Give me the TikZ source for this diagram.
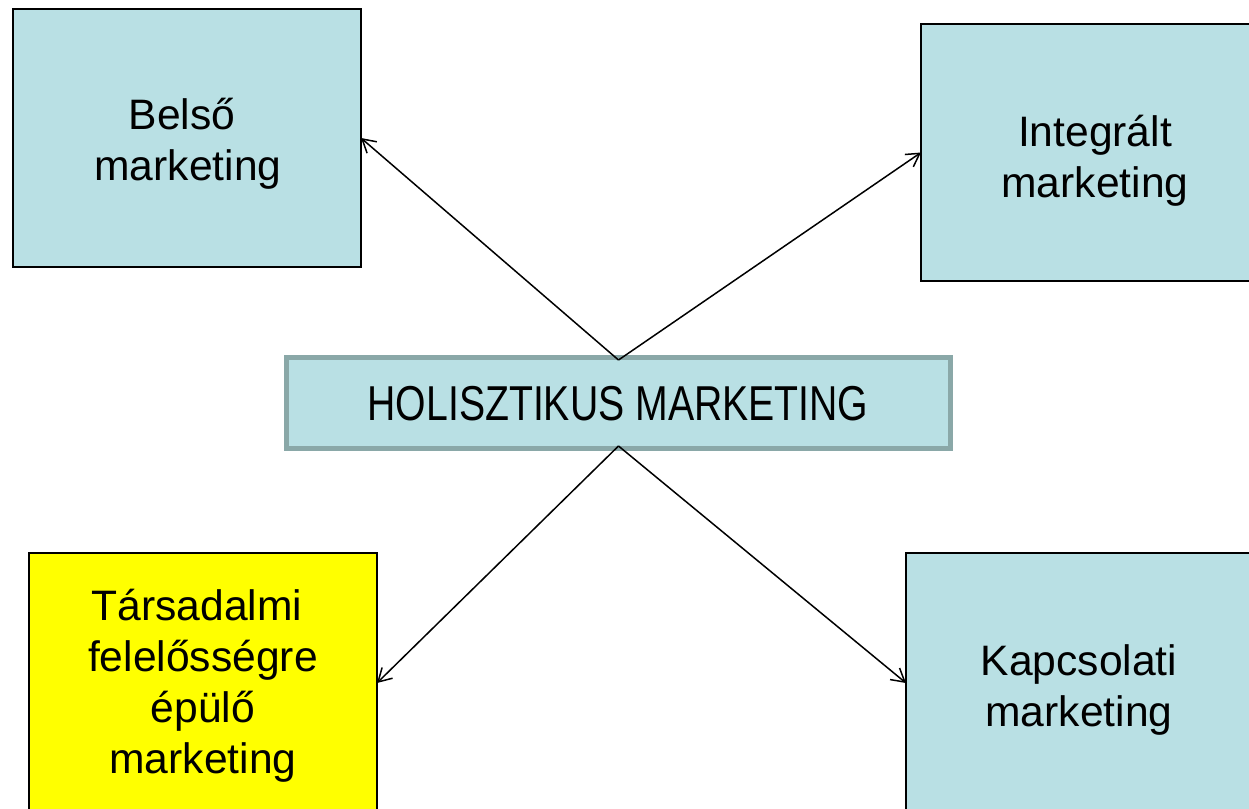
\documentclass[tikz,border=0pt]{standalone}
\usepackage{fontspec}
\setmainfont{Liberation Sans}
\newfontfamily\narrowsans[FakeStretch=0.8]{Liberation Sans}
\usetikzlibrary{arrows.meta}
\definecolor{boxcyan}{RGB}{185,224,228}
\definecolor{boxgray}{RGB}{138,168,168}
\definecolor{boxyellow}{RGB}{255,255,0}
\newcommand{\tsp}{\hspace*{0.28em}}
\tikzset{
  sidebox/.style={draw=black, line width=2pt, fill=boxcyan, minimum width=348pt,
    minimum height=258pt, inner sep=0pt, outer sep=0pt},
  boxtext/.style={align=center, inner sep=0pt, font=\fontsize{42.6}{51}\selectfont},
  hubbox/.style={draw=boxgray, line width=5pt, fill=boxcyan, minimum width=664pt,
    minimum height=91pt, inner sep=0pt, outer sep=0pt},
  link/.style={line width=1.5pt, -{Straight Barb[length=13pt,width=15pt,line width=1.5pt]}}
}
\begin{document}
\begin{tikzpicture}[x=1pt,y=-1pt]
  \useasboundingbox (0,0) rectangle (1249,808);
  % the four surrounding boxes
  \node[sidebox] (belso) at (187,138) {};
  \node[sidebox, minimum height=257pt] (integ) at (1095,152.5) {};
  \node[sidebox, fill=boxyellow, minimum height=260pt] (tars) at (203,683) {};
  \node[sidebox, minimum height=260pt] (kapcs) at (1080,683) {};
  % central box
  \node[hubbox] (hol) at (618.5,403) {};
  % texts
  \node[boxtext] (belsoT) at (188,143.4) {Belső\tsp\\marketing};
  \node[boxtext] (integT) at (1095,160.4) {Integrált\\marketing};
  \node[boxtext] (tarsT) at (203,685.4) {Társadalmi\tsp\\felelősségre\\épülő\\marketing};
  \node[boxtext] (kapcsT) at (1079,690.4) {Kapcsolati\\marketing};
  \node[anchor=base, inner sep=0pt, font=\narrowsans\fontsize{49}{58}\selectfont] (holT) at (618,420) {HOLISZTIKUS MARKETING};
  % connectors
  \draw[link] ([yshift=-2.5pt]hol.north) -- (belso.east);
  \draw[link] ([yshift=-2.5pt]hol.north) -- (integ.west);
  \draw[link] ([yshift=2.5pt]hol.south) -- (tars.east);
  \draw[link] ([yshift=2.5pt]hol.south) -- (kapcs.west);
\end{tikzpicture}
\end{document}
